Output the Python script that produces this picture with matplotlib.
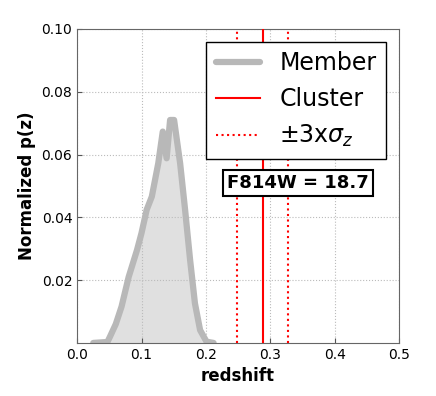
import numpy as np
import matplotlib
matplotlib.use("Agg")
import matplotlib.pyplot as plt

# p(z) curve
z = [0.025, 0.047, 0.051, 0.060, 0.069, 0.080, 0.093, 0.100, 0.108, 0.116, 0.126,
     0.133, 0.139, 0.1444, 0.1506, 0.160, 0.1677, 0.1755, 0.183, 0.191, 0.201, 0.212]
pz = [0.0, 0.0003, 0.002, 0.006, 0.0116, 0.021, 0.0296, 0.035, 0.0424, 0.0466, 0.0572,
      0.0673, 0.0588, 0.071, 0.071, 0.0572, 0.0424, 0.0264, 0.0126, 0.0041, 0.0004, 0.0]
z_cluster = 0.288
sigma_lo = 0.249
sigma_hi = 0.327
mag_label = "F814W = 18.7"
xticks = [0.0, 0.1, 0.2, 0.3, 0.4, 0.5]
yticks = [0.02, 0.04, 0.06, 0.08, 0.10]

fig = plt.figure(figsize=(4.36, 3.96), dpi=100)
ax = fig.add_axes([0.177, 0.134, 0.738, 0.793])

ax.fill_between(z, pz, color="#e0e0e0", zorder=1)
ax.plot(z, pz, color="#b8b8b8", lw=4.5, label="Member", zorder=2,
        solid_capstyle="round", solid_joinstyle="round")
ax.axvline(z_cluster, color="red", lw=1.5, label="Cluster", zorder=3)
ax.axvline(sigma_lo, color="red", lw=1.5, ls=":", label=r"$\pm3$x$\sigma_z$", zorder=3)
ax.axvline(sigma_hi, color="red", lw=1.5, ls=":", zorder=3)

ax.set_xlim(0, 0.5)
ax.set_ylim(0, 0.1)
ax.set_xticks(xticks)
ax.set_yticks(yticks)
ax.set_xticklabels([f"{t:.1f}" for t in xticks])
ax.set_yticklabels([f"{t:.2f}" for t in yticks])
ax.tick_params(direction="in", labelsize=10, color="#555555")
ax.grid(True, ls=":", color="#bbbbbb", lw=0.8)
for s in ax.spines.values():
    s.set_color("#666666")

ax.set_xlabel("redshift", fontsize=12, fontweight="bold")
ax.set_ylabel("Normalized p(z)", fontsize=12, fontweight="bold")

leg = ax.legend(loc="upper right", fontsize=17, fancybox=False, framealpha=1,
                borderaxespad=0.55, handlelength=1.9, labelspacing=0.5)
leg.get_frame().set_edgecolor("black")

ax.text(0.343, 0.051, mag_label, fontsize=13, fontweight="bold", ha="center", va="center",
        bbox=dict(facecolor="white", edgecolor="black", lw=1.5, pad=3), zorder=5)

fig.savefig("out.png", dpi=100)
